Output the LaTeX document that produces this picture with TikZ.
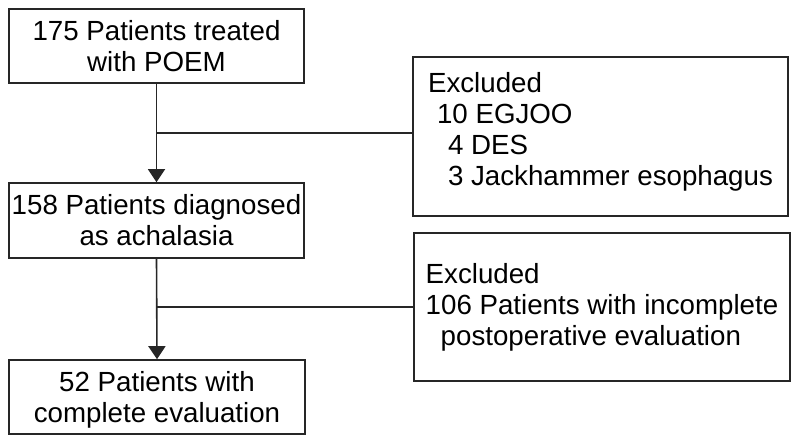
\documentclass[tikz,border=0pt]{standalone}
\usepackage{fontspec}
\setmainfont{Liberation Sans}
\usetikzlibrary{arrows.meta}
\begin{document}
\begin{tikzpicture}[x=1pt,y=-1pt,
  box/.style={draw=black!85, line width=1.6pt, inner sep=0pt, font=\fontsize{27.7}{31}\selectfont},
  conn/.style={draw=black!85, line width=1.6pt},
  arr/.style={conn, -{Triangle[length=13pt,width=17pt]}}]
\useasboundingbox (0,0) rectangle (797,444);
\node[box, align=center, minimum width=295pt, minimum height=74pt] (b1) at (156.5,46) {175 Patients treated\\with POEM};
\node[box, align=center, minimum width=295pt, minimum height=75pt] (b2) at (156.5,220.5) {158 Patients diagnosed\\as achalasia};
\node[box, align=center, minimum width=296pt, minimum height=74pt] (b3) at (157,397) {\rule{0pt}{26pt}52 Patients with\\complete evaluation};
\node[box, align=left, minimum width=375pt, minimum height=159pt] (e1) at (600.5,136.5) {Excluded\\\hspace{9pt}10 EGJOO\\\hspace{20pt}4 DES\\\hspace{20pt}3 Jackhammer esophagus\rule[-15pt]{0pt}{1pt}};
\node[box, align=left, minimum width=376pt, minimum height=148pt] (e2) at (602,307) {Excluded\\106 Patients with incomplete\\\hspace{15pt}postoperative evaluation};
\coordinate (j1) at (157,133);
\coordinate (j2) at (157,307);
\draw[arr] (b1.south) -- (b2.north);
\draw[arr] (b2.south) -- (b3.north);
\draw[conn] (j1) -- (j1 -| e1.west);
\draw[conn] (j2) -- (j2 -| e2.west);
\end{tikzpicture}
\end{document}
